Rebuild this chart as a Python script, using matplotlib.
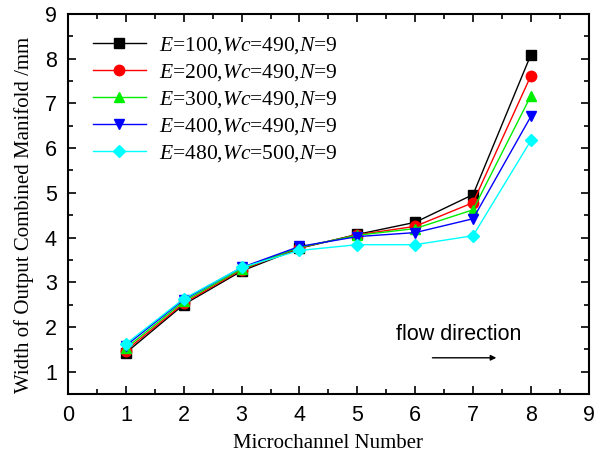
import numpy as np
import matplotlib
matplotlib.use("Agg")
import matplotlib.pyplot as plt
from matplotlib.ticker import MultipleLocator

plt.rcParams["mathtext.fontset"] = "custom"
plt.rcParams["mathtext.it"] = "Liberation Serif:italic"
plt.rcParams["mathtext.rm"] = "Liberation Serif"

channels = [1, 2, 3, 4, 5, 6, 7, 8]
labels = [
    r"$E$=100,$Wc$=490,$N$=9",
    r"$E$=200,$Wc$=490,$N$=9",
    r"$E$=300,$Wc$=490,$N$=9",
    r"$E$=400,$Wc$=490,$N$=9",
    r"$E$=480,$Wc$=500,$N$=9",
]
w_e100 = [1.42, 2.50, 3.25, 3.76, 4.07, 4.34, 4.96, 8.09]
w_e200 = [1.47, 2.53, 3.28, 3.77, 4.06, 4.25, 4.78, 7.62]
w_e300 = [1.52, 2.57, 3.30, 3.78, 4.05, 4.20, 4.62, 7.17]
w_e400 = [1.58, 2.61, 3.33, 3.80, 4.02, 4.11, 4.42, 6.71]
w_e480 = [1.62, 2.63, 3.33, 3.71, 3.84, 3.84, 4.04, 6.17]

series = [w_e100, w_e200, w_e300, w_e400, w_e480]
colors = ["black", "red", "#00ee00", "blue", "cyan"]
markers = ["s", "o", "^", "v", "D"]
sizes = [7, 7.5, 7.5, 7.5, 6.5]

fig = plt.figure(figsize=(6.07, 4.59), dpi=100)
ax = fig.add_axes([0.112, 0.1416, 0.858, 0.828])

for vals, c, m, s, lab in zip(series, colors, markers, sizes, labels):
    ax.plot(channels, vals, color=c, marker=m, markersize=s, linewidth=1,
            label=lab)

ax.set_xlim(0, 9)
ax.set_ylim(0.5, 9)
ax.xaxis.set_major_locator(MultipleLocator(1))
ax.xaxis.set_minor_locator(MultipleLocator(0.5))
ax.yaxis.set_major_locator(MultipleLocator(1))
ax.yaxis.set_minor_locator(MultipleLocator(0.5))
ax.tick_params(which="both", direction="in", top=True, right=True, width=1.2)
ax.tick_params(which="major", length=6, labelsize=15.5, pad=8)
ax.tick_params(which="minor", length=3.5)
for lbl in ax.get_xticklabels() + ax.get_yticklabels():
    lbl.set_fontfamily("Liberation Sans")
for sp in ax.spines.values():
    sp.set_linewidth(1.5)

ax.set_xlabel("Microchannel Number", fontfamily="Liberation Serif", fontsize=15,
              labelpad=6)
ax.set_ylabel("Width of Output Combined Manifold /mm", fontfamily="Liberation Serif",
              fontsize=15)
ax.yaxis.set_label_coords(-0.065, 0.47)

leg = ax.legend(loc="upper left", frameon=False,
                prop={"family": "Liberation Serif", "size": 15.5},
                handlelength=2.5, handletextpad=0.6, labelspacing=0.28,
                bbox_to_anchor=(0.01, 0.995))

ax.text(6.76, 1.83, "flow direction", fontfamily="Liberation Sans", fontsize=15.5,
        ha="center", va="center")
ax.annotate("", xy=(7.45, 1.31), xytext=(6.25, 1.31),
            arrowprops=dict(arrowstyle="-|>", color="black", lw=1,
                            mutation_scale=8))

fig.savefig("out.png", dpi=100)
